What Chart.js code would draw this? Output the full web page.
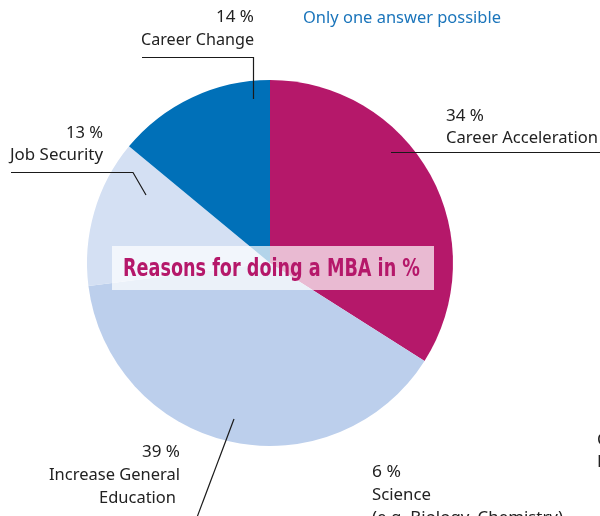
<!DOCTYPE html>
<html>
<head>
<meta charset="utf-8">
<script src="https://cdn.jsdelivr.net/npm/chart.js@4/dist/chart.umd.min.js"></script>
<style>
  html, body { margin: 0; padding: 0; background: #ffffff; }
  #wrap { width: 600px; height: 516px; position: relative; overflow: hidden; }
</style>
</head>
<body>
<div id="wrap"><canvas id="mbaChart" width="600" height="516"></canvas></div>
<script>
// reasons, clockwise from 12 o'clock
const reasons = ["Career Acceleration", "Increase General Education", "Job Security", "Career Change"];
const shares = [34, 39, 13, 14];
const sliceColors = ["#b5186a", "#bccfec", "#d4e0f3", "#0070b8"];

const titleText = "Reasons for doing a MBA in %";
const noteText = "Only one answer possible";

// text helper: draws text squeezed to the width it has in the reference
function putText(ctx, text, x, y, align, width, font, color) {
    ctx.save();
    ctx.font = font;
    ctx.fillStyle = color;
    ctx.textBaseline = "alphabetic";
    const w = ctx.measureText(text).width;
    const sx = width ? width / w : 1;
    let left = x;
    if (align === "right") left = x - w * sx;
    if (align === "center") left = x - (w * sx) / 2;
    ctx.translate(left, y);
    ctx.scale(sx, 1);
    ctx.textAlign = "left";
    ctx.fillText(text, 0, 0);
    ctx.restore();
}

function line(ctx, pts) {
    ctx.beginPath();
    ctx.moveTo(pts[0][0], pts[0][1]);
    for (let i = 1; i < pts.length; i++) ctx.lineTo(pts[i][0], pts[i][1]);
    ctx.stroke();
}

const labelFont = "17px 'Noto Sans'";
const labelColor = "#222222";

const annotations = {
    id: "annotations",
    afterDraw(chart) {
        const ctx = chart.ctx;

        // title box over the pie
        ctx.save();
        ctx.fillStyle = "rgba(255,255,255,0.7)";
        ctx.fillRect(112, 246, 322, 44);
        ctx.restore();
        putText(ctx, titleText, 123, 276, "left", 297, "bold 25px 'DejaVu Sans Condensed', 'DejaVu Sans'", "#b5186a");

        putText(ctx, noteText, 303, 23, "left", 198, labelFont, "#1b75bb");

        ctx.save();
        ctx.strokeStyle = "#1a1a1a";
        ctx.lineWidth = 1.2;
        // Career Change
        line(ctx, [[142, 57.5], [253.5, 57.5], [253.5, 99]]);
        // Career Acceleration
        line(ctx, [[391, 152.5], [600, 152.5]]);
        // Job Security
        line(ctx, [[11, 172.5], [133, 172.5], [146, 195]]);
        // Increase General Education
        line(ctx, [[234, 419], [196, 520]]);
        ctx.restore();

        const pct = (i) => shares[i] + " %";

        putText(ctx, pct(3), 254, 22, "right", 38, labelFont, labelColor);
        putText(ctx, "Career Change", 254, 45, "right", 113, labelFont, labelColor);

        putText(ctx, pct(0), 446, 121, "left", 38, labelFont, labelColor);
        putText(ctx, "Career Acceleration", 446, 143, "left", 152, labelFont, labelColor);

        putText(ctx, pct(2), 103, 138, "right", 37, labelFont, labelColor);
        putText(ctx, "Job Security", 103, 160, "right", 93, labelFont, labelColor);

        putText(ctx, pct(1), 180, 457, "right", 38, labelFont, labelColor);
        putText(ctx, "Increase General", 180, 480, "right", 131, labelFont, labelColor);
        putText(ctx, "Education", 176, 503, "right", 77, labelFont, labelColor);

        // neighbouring chart, cut by the frame
        putText(ctx, "6 %", 372, 477, "left", 29, labelFont, labelColor);
        putText(ctx, "Science", 372, 500, "left", 59, labelFont, labelColor);
        putText(ctx, "(e.g. Biology, Chemistry)", 372, 523, "left", 191, labelFont, labelColor);
        putText(ctx, "C", 597, 445, "left", null, labelFont, labelColor);
        putText(ctx, "E", 597, 467, "left", null, labelFont, labelColor);
    },
};

const ctx = document.getElementById("mbaChart").getContext("2d");
new Chart(ctx, {
    type: "pie",
    data: {
        labels: reasons,
        datasets: [
            {
                data: shares,
                backgroundColor: sliceColors,
                borderWidth: 0,
            },
        ],
    },
    options: {
        responsive: false,
        animation: false,
        layout: {
            padding: { top: 80, right: 147, bottom: 70, left: 87 },
        },
        plugins: {
            legend: { display: false },
            tooltip: { enabled: false },
        },
    },
    plugins: [annotations],
});
</script>
</body>
</html>
